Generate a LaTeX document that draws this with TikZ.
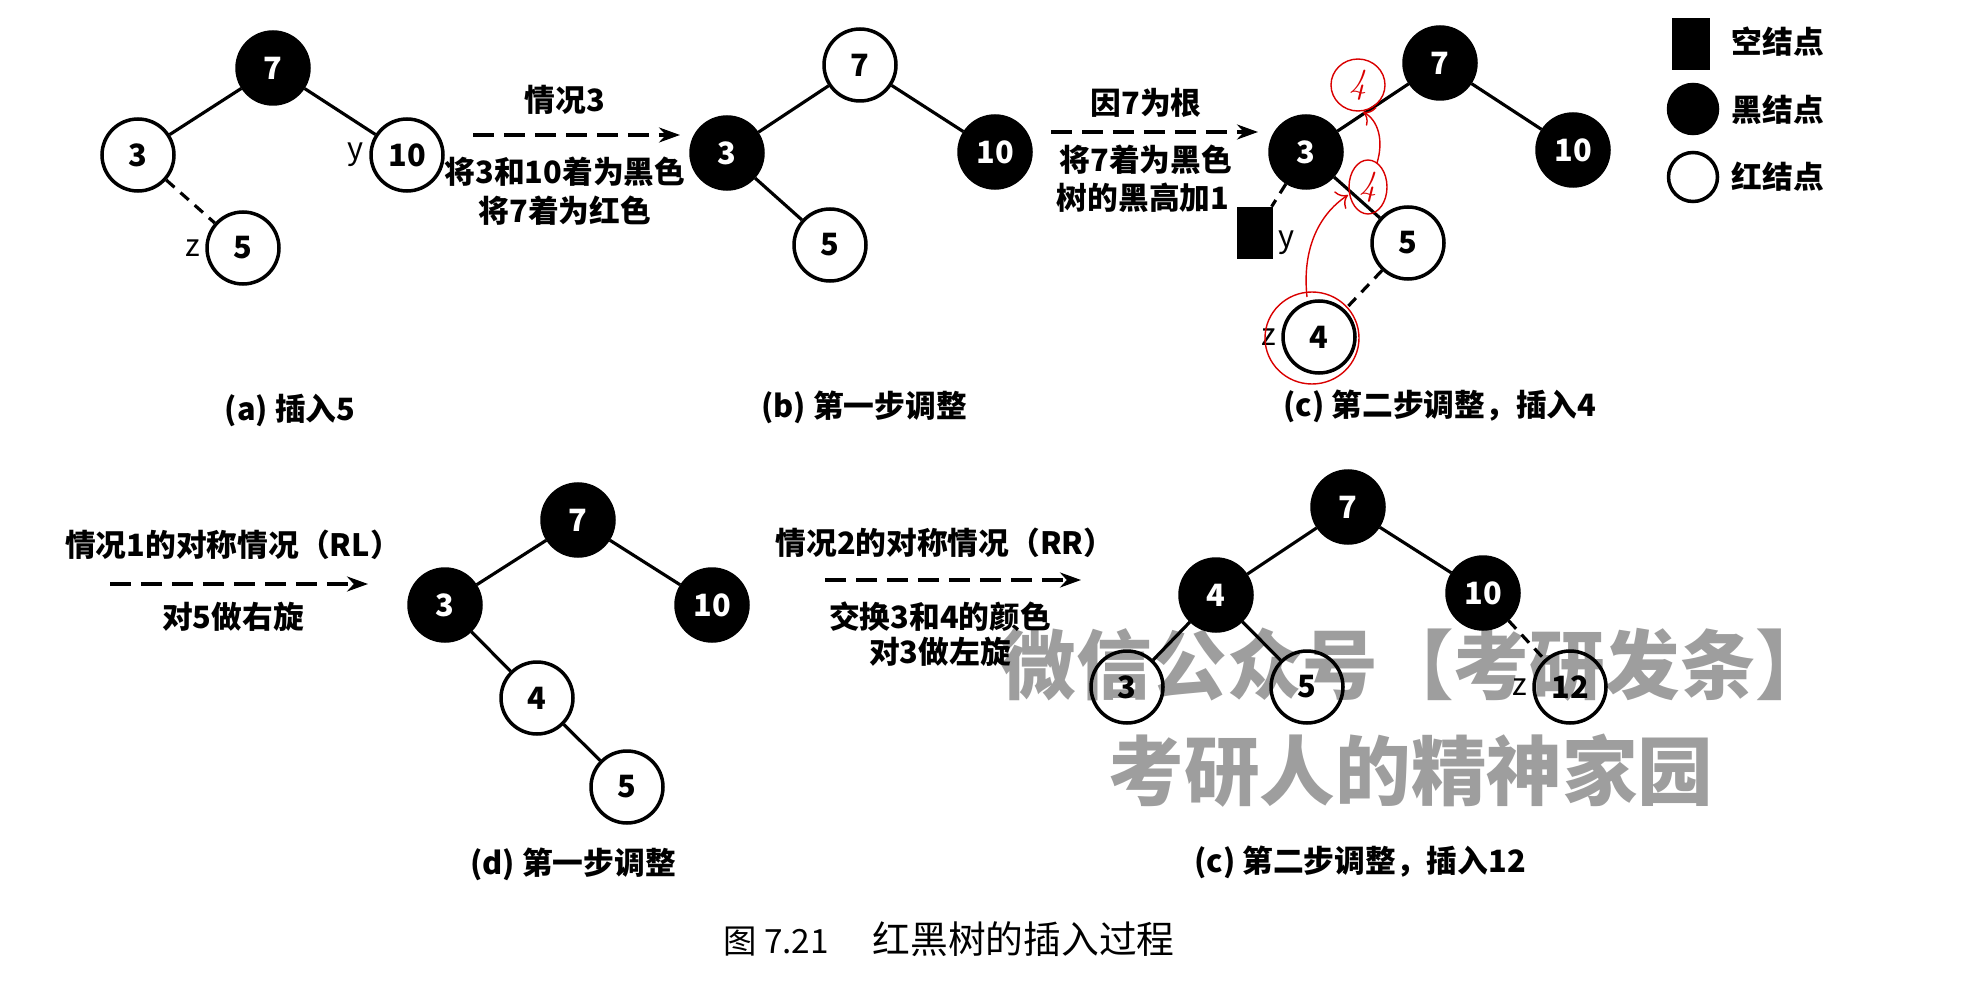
\documentclass[tikz,border=0pt]{standalone}
\usepackage{fontspec}
\newfontfamily\cjk{Noto Sans CJK SC}
\usetikzlibrary{arrows.meta, positioning}
\newcommand\txtsize{\fontsize{17.5pt}{21pt}\selectfont}
\tikzset{
  bnode/.style   = {draw, circle, line width=2pt, fill=black, text=white,
                    minimum size=1.44cm, inner sep=0pt, font=\cjk\bfseries\txtsize},
  rnode/.style   = {draw, circle, line width=2pt, fill=white,
                    minimum size=1.44cm, inner sep=0pt, font=\cjk\bfseries\txtsize},
  nilnode/.style = {rectangle, fill=black, minimum width=0.72cm,
                    minimum height=1.04cm, inner sep=0pt},
  tline/.style   = {line width=1.8pt},
  tdash/.style   = {line width=1.8pt, dash pattern=on 0.22cm off 0.16cm},
  flow/.style    = {-{Stealth[length=0.42cm, width=0.3cm]}, line width=1.8pt,
                    dash pattern=on 0.42cm off 0.2cm},
  lbl/.style     = {font=\cjk\bfseries\txtsize, inner sep=1pt},
  tag/.style     = {font=\cjk\txtsize, inner sep=3pt},
  redink/.style  = {draw=red!85!black, line width=0.8pt},
  redtxt/.style  = {text=red!85!black, font=\fontsize{20pt}{22pt}\selectfont\itshape},
  wmark/.style   = {font=\cjk\bfseries\fontsize{43pt}{47pt}\selectfont, text=black!38}
}

\begin{document}
\begin{tikzpicture}[x=0.02cm, y=-0.02cm]
  \useasboundingbox (0,0) rectangle (1975,1000);

  % ── (a) insert 5 ──────────────────────────────────────────────────────────
  \node[bnode] (a7)  at (273,68)  {7};
  \node[rnode] (a3)  at (138,155) {3};
  \node[rnode] (a10) at (407,155) {10};
  \node[rnode] (a5)  at (243,248) {5};
  \node[tag, left=0pt of a10] (ay) {y};
  \node[tag, left=0pt of a5]  (az) {z};
  \draw[tline] (a7) -- (a3);
  \draw[tline] (a7) -- (a10);
  \draw[tdash] (a3) -- (a5);
  \node[lbl] (capa) at (290,410) {(a) 插入5};

  % case 3
  \coordinate (ab-s) at (473,135);
  \coordinate (ab-e) at (680,135);
  \draw[flow] (ab-s) -- (ab-e);
  \node[lbl] (ab1) at (565,100) {情况3};
  \node[lbl] (ab2) at (565,172) {将3和10着为黑色};
  \node[lbl] (ab3) at (565,211) {将7着为红色};

  % ── (b) first step ────────────────────────────────────────────────────────
  \node[rnode] (b7)  at (860,65)  {7};
  \node[bnode] (b3)  at (727,153) {3};
  \node[bnode] (b10) at (995,152) {10};
  \node[rnode] (b5)  at (830,245) {5};
  \draw[tline] (b7) -- (b3);
  \draw[tline] (b7) -- (b10);
  \draw[tline] (b3) -- (b5);
  \node[lbl] (capb) at (864,407) {(b) 第一步调整};

  % 7 is root
  \coordinate (bc-s) at (1051,132);
  \coordinate (bc-e) at (1258,132);
  \draw[flow] (bc-s) -- (bc-e);
  \node[lbl] (bc1) at (1146,103) {因7为根};
  \node[lbl] (bc2) at (1146,160) {将7着为黑色};
  \node[lbl] (bc3) at (1143,198) {树的黑高加1};

  % ── (c) second step, insert 4 ─────────────────────────────────────────────
  \node[bnode]   (c7)   at (1440,63)  {7};
  \node[bnode]   (c3)   at (1306,152) {3};
  \node[bnode]   (c10)  at (1573,150) {10};
  \node[rnode]   (c5)   at (1408,243) {5};
  \node[rnode]   (c4)   at (1319,337) {4};
  \node[nilnode] (cnil) at (1255,233) {};
  \node[tag, right=0pt of cnil, yshift=-0.2cm] (cy) {y};
  \node[tag, left=0pt of c4] (cz) {z};
  \draw[tline] (c7) -- (c3);
  \draw[tline] (c7) -- (c10);
  \draw[tline] (c3) -- (c5);
  \draw[tdash] (c3) -- (cnil);
  \draw[tdash] (c5) -- (c4);
  \node[lbl] (capc) at (1440,406) {(c) 第二步调整，插入4};

  % red pen notes
  \draw[redink] (1358,85) ellipse [x radius=27, y radius=26];
  \draw[redink] (1368,187) ellipse [x radius=19, y radius=27];
  \draw[redink] (1312,338) ellipse [x radius=47, y radius=46];
  \draw[redink, -{To[length=0.2cm]}] (1307,297) .. controls (1302,250) and (1318,215) .. (1348,195);
  \draw[redink, -{To[length=0.2cm]}] (1377,163) .. controls (1384,140) and (1378,120) .. (1363,112);
  \node[redtxt] (r1) at (1358,85)  {4};
  \node[redtxt] (r2) at (1368,187) {4};

  % ── legend ────────────────────────────────────────────────────────────────
  \node[nilnode, minimum width=0.76cm] (lgnil) at (1691,44) {};
  \node[bnode, minimum size=0.98cm] (lgblk) at (1693,109) {};
  \node[rnode, minimum size=0.98cm] (lgred) at (1693,177) {};
  \node[lbl] (lgt1) at (1778,42)  {空结点};
  \node[lbl] (lgt2) at (1778,110) {黑结点};
  \node[lbl] (lgt3) at (1778,177) {红结点};

  % ── (d) first step (RL) ───────────────────────────────────────────────────
  \coordinate (cd-s) at (110,584);
  \coordinate (cd-e) at (368,584);
  \draw[flow] (cd-s) -- (cd-e);
  \node[lbl] (cd1) at (233,545) {情况1的对称情况（RL）};
  \node[lbl] (cd2) at (233,617) {对5做右旋};

  \node[bnode] (d7)  at (578,520) {7};
  \node[bnode] (d3)  at (445,605) {3};
  \node[bnode] (d10) at (712,605) {10};
  \node[rnode] (d4)  at (537,698) {4};
  \node[rnode] (d5)  at (627,787) {5};
  \draw[tline] (d7) -- (d3);
  \draw[tline] (d7) -- (d10);
  \draw[tline] (d3) -- (d4);
  \draw[tline] (d4) -- (d5);
  \node[lbl] (capd) at (573,864) {(d) 第一步调整};

  % ── (c) second step (RR), insert 12 ───────────────────────────────────────
  \coordinate (de-s) at (825,580);
  \coordinate (de-e) at (1081,580);
  \draw[flow] (de-s) -- (de-e);
  \node[lbl] (de1) at (945,543) {情况2的对称情况（RR）};
  \node[lbl] (de2) at (940,617) {交换3和4的颜色};
  \node[lbl] (de3) at (940,652) {对3做左旋};

  \node[bnode] (e7)  at (1348,507) {7};
  \node[bnode] (e4)  at (1216,595) {4};
  \node[bnode] (e10) at (1483,593) {10};
  \node[rnode] (e3)  at (1127,687) {3};
  \node[rnode] (e5)  at (1307,687) {5};
  \node[rnode] (e12) at (1570,687) {12};
  \node[tag, left=0pt of e12] (ez) {z};
  \draw[tline] (e7) -- (e4);
  \draw[tline] (e7) -- (e10);
  \draw[tline] (e4) -- (e3);
  \draw[tline] (e4) -- (e5);
  \draw[tdash] (e10) -- (e12);
  \node[lbl] (cape) at (1360,862) {(c) 第二步调整，插入12};

  % figure caption
  \node[font=\cjk\fontsize{19pt}{22pt}\selectfont] (fig) at (949,939)
    {图 7.21\hspace{1.3em}{\fontsize{21.5pt}{24pt}\selectfont 红黑树的插入过程}};

  % watermark
  \begin{scope}[blend mode=multiply]
    \node[wmark] (wm1) at (1416,665) {微信公众号【考研发条】};
    \node[wmark] (wm2) at (1411,771) {考研人的精神家园};
  \end{scope}

\end{tikzpicture}
\end{document}
